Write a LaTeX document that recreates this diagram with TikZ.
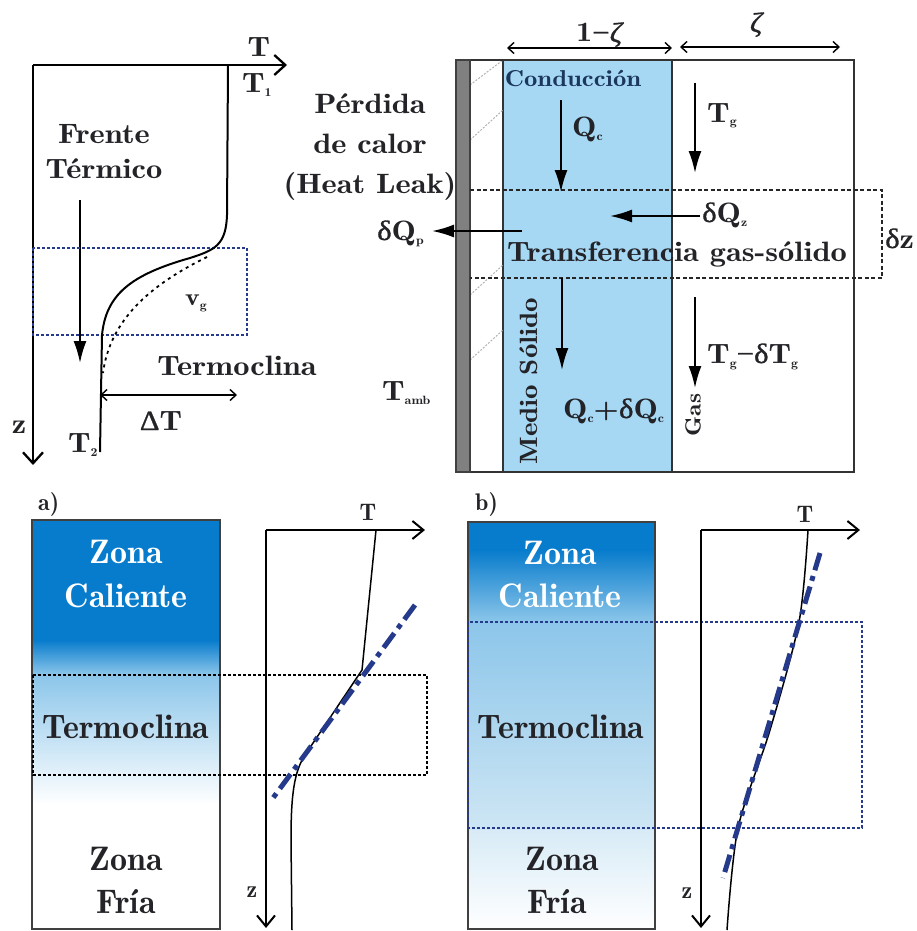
\documentclass[tikz,border=0pt]{standalone}
\usepackage{fontspec}
\setmainfont{lmromandemi10-regular.otf}
\newfontfamily\widerm{lmromandemi10-regular.otf}[FakeStretch=1.16]
\newfontfamily\greekrm{Liberation Serif}[FakeStretch=1.1, FakeBold=1]
\usetikzlibrary{arrows.meta}

\definecolor{solidblue}{RGB}{166,216,244}
\definecolor{hotblue}{RGB}{8,124,204}
\definecolor{midblue}{RGB}{140,198,234}
\definecolor{paleblue}{RGB}{206,230,244}
\definecolor{navy}{RGB}{38,58,140}
\definecolor{ink}{RGB}{35,35,40}
\definecolor{conducink}{RGB}{28,55,92}

\newcommand{\lowsub}[1]{\raisebox{-4pt}{\fontsize{12}{12}\selectfont #1}}
\newcommand{\gk}[1]{{\greekrm #1}}

\begin{document}
\begin{tikzpicture}[x=1pt, y=-1pt,
  axis/.style={line width=2.3pt, -{Straight Barb[length=11pt,width=20pt]}},
  thinaxis/.style={line width=2pt, -{Straight Barb[length=11pt,width=18pt]}},
  flow/.style={line width=2pt, -{Latex[length=22pt,width=13pt]}},
  span/.style={line width=1.4pt, {Straight Barb[length=6pt,width=11pt]}-{Straight Barb[length=6pt,width=11pt]}},
  label/.style={font=\widerm\fontsize{28}{35}\selectfont, text=ink, inner sep=0pt},
  zonetext/.style={font=\fontsize{34}{44}\selectfont, text=ink, inner sep=0pt},
  small/.style={font=\fontsize{24}{28}\selectfont, text=ink, inner sep=0pt},
  dotbox/.style={line width=2.6pt, dash pattern=on 2.6pt off 2.4pt},
  band/.style={line width=1.4pt, dash pattern=on 4pt off 2.5pt, black!85},
  trend/.style={line width=5pt, navy, dash pattern=on 18pt off 6pt on 5pt off 6pt},
  profile/.style={line width=1.5pt, black},
  boxline/.style={line width=1.8pt, draw=black!75}]
  \useasboundingbox (0,0) rectangle (917,931);

  % Frente termico: perfil de temperatura
  \draw[axis] (33,65) -- (287,65);
  \draw[axis] (33,65) -- (33,465);
  \node[label, anchor=base] (tTop) at (259,57) {T};
  \node[label, anchor=base west] (tOne) at (242,93) {T\lowsub{1}};
  \node[label, anchor=base west] (tTwo) at (68,452) {T\lowsub{2}};
  \node[label, anchor=base] (zTop) at (19,433) {z};
  \node[label, align=center] (frente) at (104,152) {Frente\\Térmico};
  \draw[flow] (80,200) -- (80,363);
  \draw[navy, dotbox] (33,248) rectangle (247,335);
  \draw[profile, line width=2pt] (228,65) -- (227,215) .. controls (226,245) and (215,250) .. (190,258)
    .. controls (130,275) and (106,295) .. (102,335) -- (100,452);
  \draw[line width=1.8pt, dash pattern=on 3pt off 4pt] (207,257) .. controls (150,285) and (110,320) .. (103,373);
  \node[label, font=\widerm\fontsize{24}{28}\selectfont, anchor=base] (vg) at (196,305) {v\lowsub{g}};
  \node[label, anchor=base] (thermo) at (237,375) {Termoclina};
  \draw[span] (100,395) -- (237,395);
  \node[label, anchor=base] (dT) at (161,430) {\gk{Δ}T};

  % Elemento de volumen
  \filldraw[fill=solidblue, draw=black!80, line width=1.2pt] (503,60) rectangle (672,472);
  \foreach \ya/\yb in {85/60, 140/110, 295/265, 360/330} {
    \draw[gray!60, line width=1pt, dash pattern=on 2pt off 1.5pt] (470,\ya) -- (503,\yb);
  }
  \draw[line width=1.5pt, black!80] (456,60) rectangle (854,472);
  \filldraw[fill=gray, draw=black!75, line width=1.2pt] (456,60) rectangle (470,472);
  \draw[band] (470,190) -- (882,190) -- (882,278) -- (470,278);
  \draw[span] (507,48) -- (672,48);
  \draw[span] (680,47) -- (840,47);
  \node[label, anchor=base] (oneMinus) at (600,42) {1\gk{−\textit{ζ}}};
  \node[label, anchor=base] (zeta) at (757,32) {\gk{\textit{ζ}}};
  \node[label, align=center] (leak) at (370,147) {Pérdida\\[5pt]de calor\\[5pt](Heat Leak)};
  \node[label, anchor=base east] (dQp) at (424,240) {\gk{δ}Q\lowsub{p}};
  \node[label, anchor=base west] (tAmb) at (382,400) {T\lowsub{amb}};
  \node[label, font=\widerm\fontsize{23}{26}\selectfont, text=conducink, anchor=base] (conduc) at (573,87) {Conducción};
  \draw[flow] (561,100) -- (561,192);
  \node[label, anchor=base west] (qc) at (572,136) {Q\lowsub{c}};
  \draw[flow] (695,83) -- (695,173);
  \node[label, anchor=base west] (tg) at (707,122) {T\lowsub{g}};
  \draw[flow] (700,216) -- (610,216);
  \node[label, anchor=base west] (dQz) at (702,222) {\gk{δ}Q\lowsub{z}};
  \draw[flow] (522,231) -- (432,231);
  \node[label, anchor=base] (transfer) at (677,261) {Transferencia gas-sólido};
  \node[label, anchor=base west] (dz) at (885,248) {\gk{δ}z};
  \draw[flow] (562,278) -- (562,370);
  \node[label, anchor=base west] (qcdq) at (563,418) {Q\lowsub{c}+\gk{δ}Q\lowsub{c}};
  \draw[flow] (695,297) -- (695,388);
  \node[label, anchor=base west] (tgdt) at (707,363) {T\lowsub{g}\gk{−δ}T\lowsub{g}};
  \node[label, font=\widerm\fontsize{25}{30}\selectfont, rotate=90] (solid) at (529,381) {Medio Sólido};
  \node[label, font=\widerm\fontsize{22}{26}\selectfont, rotate=90] (gas) at (693,415) {Gas};

  % a) termoclina delgada
  \node[small, anchor=base west] (partA) at (38,510) {a)};
  \fill[hotblue] (32,520) rectangle (220,640);
  \shade[top color=hotblue, bottom color=midblue] (32,640) rectangle (220,675);
  \shade[top color=midblue, bottom color=white] (32,675) rectangle (220,805);
  \draw[boxline] (32,520) rectangle (220,929);
  \node[zonetext, text=white, anchor=base] (hotA) at (126,563) {Zona};
  \node[zonetext, text=white, anchor=base] (hotA2) at (126,607) {Caliente};
  \node[zonetext, anchor=base] (clineA) at (126,738) {Termoclina};
  \node[zonetext, anchor=base] (coldA) at (126,870) {Zona};
  \node[zonetext, anchor=base] (coldA2) at (126,913) {Fría};
  \draw[dotbox, black] (33,675) rectangle (427,775);
  \draw[thinaxis] (266,530) -- (425,530);
  \draw[thinaxis] (266,530) -- (266,928);
  \node[small, anchor=base] (tA) at (368,520) {T};
  \node[small, anchor=base] (zA) at (252,897) {z};
  \draw[profile] (376,530) -- (362,670) -- (305,755) .. controls (294,772) and (291,795) .. (291,840) -- (292,930);
  \draw[trend] (415,605) -- (273,798);

  % b) termoclina ancha
  \node[small, anchor=base west] (partB) at (475,510) {b)};
  \fill[hotblue] (468,522) rectangle (655,550);
  \shade[top color=hotblue, bottom color=midblue] (468,550) rectangle (655,622);
  \shade[top color=midblue, bottom color=paleblue] (468,622) rectangle (655,830);
  \shade[top color=paleblue!80, bottom color=white] (468,830) rectangle (655,930);
  \draw[boxline] (468,522) rectangle (655,929);
  \node[zonetext, text=white, anchor=base] (hotB) at (560,564) {Zona};
  \node[zonetext, text=white, anchor=base] (hotB2) at (560,607) {Caliente};
  \node[zonetext, anchor=base] (clineB) at (561,738) {Termoclina};
  \node[zonetext, anchor=base] (coldB) at (562,870) {Zona};
  \node[zonetext, anchor=base] (coldB2) at (557,913) {Fría};
  \draw[dotbox, navy] (468,622) rectangle (862,828);
  \draw[thinaxis] (701,530) -- (860,530);
  \draw[thinaxis] (701,530) -- (701,928);
  \node[small, anchor=base] (tB) at (805,522) {T};
  \node[small, anchor=base] (zB) at (687,898) {z};
  \draw[profile] plot[smooth, tension=0.5] coordinates {(808,530) (799,622) (770,730) (738,828) (727,930)};
  \draw[trend] (820,553) -- (723,878);
\end{tikzpicture}
\end{document}
